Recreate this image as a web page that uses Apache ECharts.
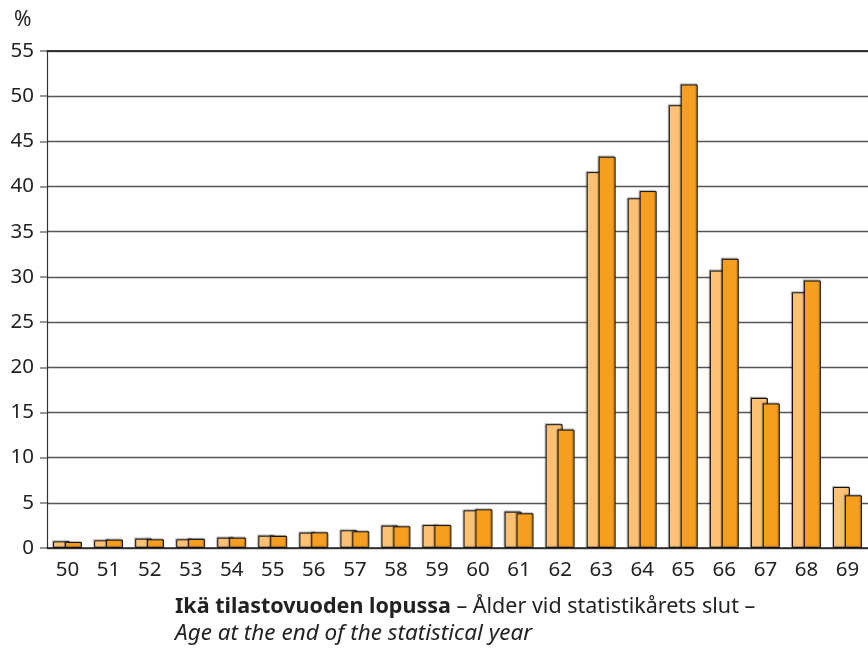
<!DOCTYPE html>
<html>
<head>
<meta charset="utf-8">
<script src="https://cdn.jsdelivr.net/npm/echarts@6/dist/echarts.min.js"></script>
<style>
html,body{margin:0;padding:0;background:#fff;}
#c{width:868px;height:648px;}
</style>
</head>
<body>
<div id="c"></div>
<script>
const categories = ['50','51','52','53','54','55','56','57','58','59','60','61','62','63','64','65','66','67','68','69'];
const seriesA = [0.74,0.85,1.03,0.96,1.14,1.36,1.70,1.96,2.47,2.54,4.17,4.02,13.7,41.6,38.7,49.0,30.7,16.6,28.3,6.75];
const seriesB = [0.66,0.92,0.96,1.00,1.14,1.33,1.73,1.85,2.40,2.54,4.28,3.84,13.1,43.3,39.5,51.3,32.0,16.0,29.6,5.83];
const yTicks = [0,5,10,15,20,25,30,35,40,45,50,55];

const FONT = 'Noto Sans';
const chart = echarts.init(document.getElementById('c'), null, {renderer:'canvas'});
const barStyle = (c) => ({
  color: c, borderColor: '#111', borderWidth: 1,
  shadowColor: 'rgba(0,0,0,0.35)', shadowBlur: 1, shadowOffsetX: -1, shadowOffsetY: -1
});
chart.setOption({
  animation: false,
  backgroundColor: '#fff',
  grid: {left: 47, right: -2, top: 51, bottom: 100, containLabel: false},
  xAxis: [{
    type: 'category', data: categories,
    axisLine: {show: true, lineStyle: {color: '#222', width: 1.5}},
    axisTick: {show: false},
    axisLabel: {fontFamily: FONT, fontSize: 20.5, color: '#222', margin: 12, interval: 0}
  },{
    type: 'category', data: categories, position: 'top',
    axisLine: {show: true, lineStyle: {color: '#333', width: 2}},
    axisTick: {show: false}, axisLabel: {show: false}
  }],
  yAxis: {
    type: 'value', min: 0, max: 55, interval: 5,
    axisLine: {show: true, lineStyle: {color: '#333', width: 1.2}},
    axisTick: {show: true, length: 7, lineStyle: {color: '#777', width: 1.5}},
    axisLabel: {fontFamily: FONT, fontSize: 20.5, color: '#222', margin: 13,
      formatter: v => yTicks.includes(v) ? String(v) : ''},
    splitLine: {show: true, lineStyle: {color: '#555', width: 1.3}}
  },
  series: [
    {type: 'bar', data: seriesA, barWidth: 17, barGap: '-30%', itemStyle: barStyle('#FDC175')},
    {type: 'bar', data: seriesB, barWidth: 17, barGap: '-30%', itemStyle: barStyle('#F59E1F')}
  ],
  graphic: [
    {type: 'text', x: 14, y: 20, style: {text: '%', fontFamily: FONT, fontSize: 21, fill: '#222', verticalAlign: 'middle'}},
    {type: 'text', x: 175, y: 607, style: {
      verticalAlign: 'middle',
      rich: {
        b: {fontFamily: FONT, fontSize: 21.5, fontWeight: 'bold', fill: '#222'},
        n: {fontFamily: FONT, fontSize: 21.5, fill: '#222'}
      },
      text: '{b|Ikä tilastovuoden lopussa}{n| – Ålder vid statistikårets slut –}', fill: '#222'
    }},
    {type: 'text', x: 175, y: 634, style: {text: 'Age at the end of the statistical year', fontFamily: FONT, fontSize: 22.5, fontStyle: 'italic', fill: '#222', verticalAlign: 'middle'}}
  ]
});
</script>
</body>
</html>
